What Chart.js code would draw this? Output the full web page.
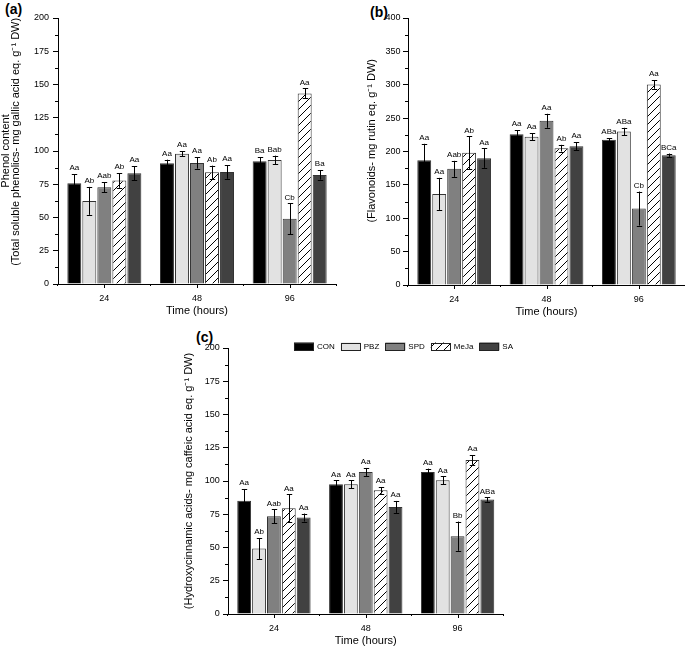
<!DOCTYPE html>
<html><head><meta charset="utf-8">
<script src="https://cdn.jsdelivr.net/npm/chart.js@4/dist/chart.umd.min.js"></script>
<style>
html,body{margin:0;padding:0;background:#fff;}
body{width:685px;height:648px;position:relative;overflow:hidden;font-family:'Liberation Sans',Arial,sans-serif;}
canvas{position:absolute;}
.lbl{position:absolute;font-weight:bold;font-size:14px;line-height:1;color:#000;}
</style></head><body>
<div class="lbl" style="left:5px;top:2px">(a)</div>
<div class="lbl" style="left:370px;top:5px">(b)</div>
<div class="lbl" style="left:196px;top:330px">(c)</div>
<canvas id="cA" width="340" height="318" style="left:0;top:0"></canvas>
<canvas id="cB" width="345" height="319" style="left:340px;top:0"></canvas>
<canvas id="cC" width="352" height="328" style="left:170px;top:320px"></canvas>
<script>
// ---- categories ----
const times = ['24', '48', '96'];
const treatments = ['CON', 'PBZ', 'SPD', 'MeJa', 'SA'];

// ---- (a) total soluble phenolics: one row per treatment, columns = 24/48/96 h ----
const phenolMeans  = [[75.8, 90.8, 92.2], [62.5, 98.0, 93.2], [72.8, 91.0, 49.0], [77.8, 84.0, 143.3], [83.2, 84.2, 82.0]];
const phenolErrors = [[6.7, 2.7, 3.2], [10.5, 1.8, 3.3], [3.8, 4.3, 11.6], [5.5, 5.0, 3.8], [5.3, 5.1, 3.5]];
const phenolLetters = [['Aa', 'Aa', 'Ba'], ['Ab', 'Aa', 'Bab'], ['Aab', 'Aa', 'Cb'], ['Ab', 'Ab', 'Aa'], ['Aa', 'Aa', 'Ba']];
const phenolAxis = [0, 200, 25];

// ---- (b) flavonoids ----
const flavMeans  = [[187.0, 226.0, 217.5], [136.5, 222.0, 230.0], [174.0, 246.0, 114.5], [198.0, 205.0, 300.5], [190.0, 208.0, 194.5]];
const flavErrors = [[24.5, 6.0, 2.5], [24.0, 5.5, 5.5], [12.0, 10.5, 25.5], [24.5, 5.0, 6.5], [14.5, 6.0, 2.5]];
const flavLetters = [['Aa', 'Aa', 'ABa'], ['Aa', 'Aa', 'ABa'], ['Aab', 'Aa', 'Cb'], ['Ab', 'Ab', 'Aa'], ['Aa', 'Aa', 'BCa']];
const flavAxis = [0, 400, 50];

// ---- (c) hydroxycinnamic acids ----
const hcaMeans  = [[85.2, 97.5, 106.8], [49.2, 97.5, 100.5], [73.5, 106.8, 58.5], [79.5, 93.0, 115.8], [72.5, 80.5, 86.0]];
const hcaErrors = [[8.8, 3.0, 2.5], [7.8, 3.0, 3.0], [5.2, 3.0, 11.0], [10.5, 2.5, 3.6], [3.0, 4.5, 1.6]];
const hcaLetters = [['Aa', 'Aa', 'Aa'], ['Ab', 'Aa', 'Aa'], ['Aab', 'Aa', 'Bb'], ['Aa', 'Aa', 'Aa'], ['Aa', 'Aa', 'ABa']];
const hcaAxis = [0, 200, 25];

const FONT = "'Liberation Sans', Arial, sans-serif";
Chart.defaults.font.family = FONT;
Chart.defaults.color = '#000';

function hatchPattern() {
  const w = 8, h = 8;
  const c = document.createElement('canvas');
  c.width = w; c.height = h;
  const g = c.getContext('2d');
  g.fillStyle = '#fff'; g.fillRect(0, 0, w, h);
  g.strokeStyle = '#000'; g.lineWidth = 1;
  for (const [dx, dy] of [[0, 0], [-w, h], [w, -h]]) {
    g.beginPath(); g.moveTo(dx, h + dy); g.lineTo(w + dx, dy); g.stroke();
  }
  return g.createPattern(c, 'repeat');
}
const fills = ['#000000', '#e2e2e2', '#808080', hatchPattern(), '#414141'];

function buildDatasets(means, errors, letters) {
  return treatments.map((t, i) => ({
    label: t, data: means[i], errors: errors[i], letters: letters[i],
    backgroundColor: fills[i], borderColor: '#333', borderWidth: 1,
    categoryPercentage: 0.81, barPercentage: 0.93
  }));
}

const errorPlugin = {
  id: 'errorBars',
  afterDatasetsDraw(chart) {
    const ctx = chart.ctx, y = chart.scales.y;
    ctx.save();
    ctx.strokeStyle = '#000'; ctx.lineWidth = 1; ctx.fillStyle = '#000';
    ctx.font = '8px ' + FONT; ctx.textAlign = 'center'; ctx.textBaseline = 'bottom';
    chart.data.datasets.forEach((ds, i) => {
      chart.getDatasetMeta(i).data.forEach((bar, j) => {
        const v = ds.data[j], e = ds.errors[j];
        const top = y.getPixelForValue(v + e), bot = y.getPixelForValue(v - e);
        const x = Math.round(bar.x) + 0.5;
        ctx.beginPath();
        ctx.moveTo(x, top); ctx.lineTo(x, bot);
        ctx.moveTo(x - 2.7, Math.round(top) + 0.5); ctx.lineTo(x + 2.7, Math.round(top) + 0.5);
        ctx.moveTo(x - 2.7, Math.round(bot) + 0.5); ctx.lineTo(x + 2.7, Math.round(bot) + 0.5);
        ctx.stroke();
        ctx.fillText(ds.letters[j], bar.x, top - 2);
      });
    });
    ctx.restore();
  }
};

const extraTicks = {
  id: 'extraTicks',
  afterDraw(chart) {
    const {ctx, chartArea: a, scales: {x, y}} = chart;
    ctx.save();
    ctx.strokeStyle = '#000'; ctx.lineWidth = 1;
    ctx.beginPath();
    const step = y.options.ticks.stepSize;
    for (let v = step / 2; v < y.max; v += step) {
      const py = Math.round(y.getPixelForValue(v)) + 0.5;
      ctx.moveTo(a.left - 3, py); ctx.lineTo(a.left, py);
    }
    times.forEach((t, i) => {
      const px = Math.round(x.getPixelForValue(i)) + 0.5;
      ctx.moveTo(px, a.bottom); ctx.lineTo(px, a.bottom + 4);
    });
    ctx.stroke();
    ctx.restore();
  }
};

const manualLegend = {
  id: 'manualLegend',
  afterDraw(chart, args, opts) {
    if (!opts.show) return;
    const {ctx, chartArea: a} = chart;
    ctx.save();
    ctx.font = '8px ' + FONT;
    const bw = 20, bh = 8, tg = 3, gap = 6;
    const items = chart.data.datasets.map(ds => ({ds, w: bw + tg + ctx.measureText(ds.label).width}));
    const total = items.reduce((s, it) => s + it.w, 0) + gap * (items.length - 1);
    let x = a.right + opts.overhang - total;
    const yc = a.top + opts.dy;
    ctx.textBaseline = 'middle'; ctx.textAlign = 'left';
    items.forEach(it => {
      ctx.fillStyle = it.ds.backgroundColor;
      ctx.fillRect(x, yc - bh / 2, bw, bh);
      ctx.strokeStyle = '#222'; ctx.lineWidth = 1;
      ctx.strokeRect(Math.round(x) + 0.5, Math.round(yc - bh / 2) + 0.5, bw - 1, bh - 1);
      ctx.fillStyle = '#000';
      ctx.fillText(it.ds.label, x + bw + tg, yc + 0.5);
      x += it.w + gap;
    });
    ctx.restore();
  }
};

function makeChart(id, cfg) {
  return new Chart(document.getElementById(id), {
    type: 'bar',
    data: {labels: times, datasets: buildDatasets(cfg.means, cfg.errors, cfg.letters)},
    options: {
      responsive: false, animation: false, events: [],
      layout: {padding: {left: 0, right: cfg.padRight, top: cfg.padTop, bottom: 0}},
      plugins: {legend: {display: false}, tooltip: {enabled: false},
        manualLegend: {show: !!cfg.legend, overhang: 9.5, dy: -1.5}},
      scales: {
        x: {
          offset: true,
          grid: {offset: true, drawOnChartArea: false, tickLength: 2, color: '#000', lineWidth: 1},
          border: {color: '#000', width: 1},
          ticks: {font: {size: 9}, color: '#000', padding: 7},
          title: {display: true, text: 'Time (hours)', font: {size: 11}, color: '#000', padding: {top: 0, bottom: 0}},
          afterFit(s) { s.height = 34; }
        },
        y: {
          min: cfg.axis[0], max: cfg.axis[1],
          ticks: {stepSize: cfg.axis[2], font: {size: 9}, color: '#000', padding: cfg.tickPad},
          grid: {drawOnChartArea: false, tickLength: 5, color: '#000'},
          border: {color: '#000', width: 1},
          title: {display: true, text: cfg.yTitle, font: {size: 11, lineHeight: 0.85}, color: '#000',
            padding: {top: cfg.titlePad, bottom: 0}},
          afterFit(s) { s.width = cfg.yWidth; }
        }
      }
    },
    plugins: [errorPlugin, extraTicks, manualLegend]
  });
}

makeChart('cA', {means: phenolMeans, errors: phenolErrors, letters: phenolLetters, axis: phenolAxis,
  yTitle: ['Phenol content', '      (Total soluble phenolics- mg gallic acid eq. g\u207B\u00B9 DW)'],
  padTop: 18, padRight: 4, yWidth: 58, tickPad: 4, titlePad: 1.6});
makeChart('cB', {means: flavMeans, errors: flavErrors, letters: flavLetters, axis: flavAxis,
  yTitle: '       (Flavonoids- mg rutin eq. g\u207B\u00B9 DW)',
  padTop: 18, padRight: 0, yWidth: 68, tickPad: 2.5, titlePad: 26.8});
makeChart('cC', {means: hcaMeans, errors: hcaErrors, letters: hcaLetters, axis: hcaAxis,
  yTitle: '(Hydroxycinnamic acids- mg caffeic acid eq. g\u207B\u00B9 DW)',
  padTop: 28, padRight: 18.5, yWidth: 58, tickPad: 3.3, titlePad: 14.3, legend: true});
</script>
</body></html>
